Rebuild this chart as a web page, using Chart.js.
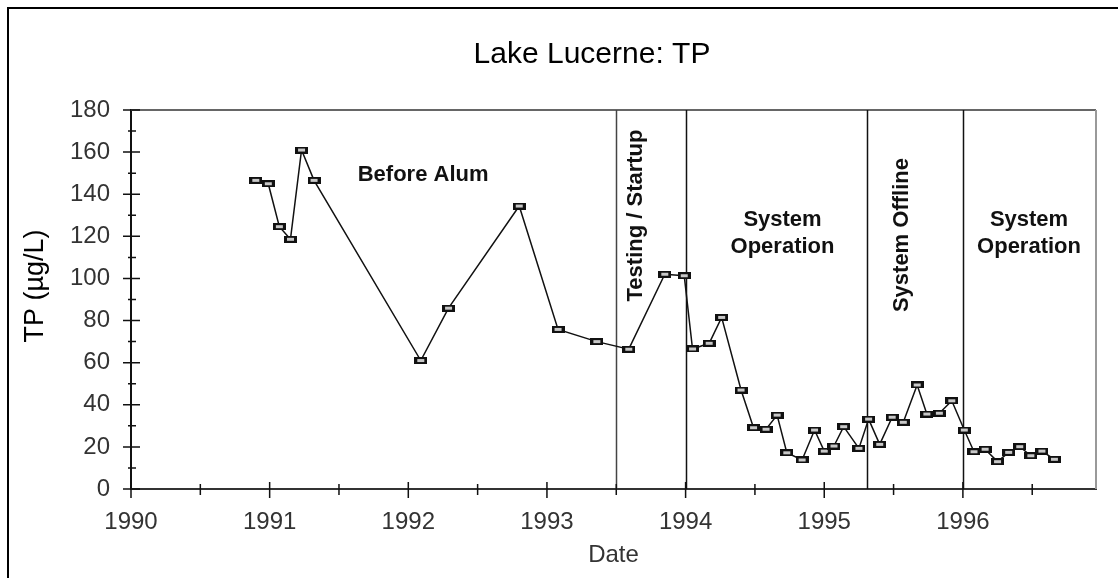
<!DOCTYPE html>
<html>
<head>
<meta charset="utf-8">
<title>Lake Lucerne: TP</title>
<script src="https://cdn.jsdelivr.net/npm/chart.js@4/dist/chart.umd.min.js"></script>
<style>
  html, body { margin: 0; padding: 0; background: #fff; }
  #wrap { width: 1118px; height: 578px; }
</style>
</head>
<body>
<div id="wrap"><canvas id="c" width="1118" height="578"></canvas></div>
<script>
// Sampling dates (decimal years) and total phosphorus (µg/L)
const sampleDates = [
  1990.90, 1990.99, 1991.07, 1991.15, 1991.23, 1991.32,
  1992.09, 1992.29, 1992.80, 1993.08, 1993.36,
  1993.59, 1993.85, 1993.99,
  1994.05, 1994.17, 1994.26, 1994.40, 1994.49, 1994.58, 1994.66, 1994.73,
  1994.84, 1994.93, 1995.00, 1995.07, 1995.14, 1995.25,
  1995.32, 1995.40, 1995.49, 1995.57, 1995.67, 1995.74, 1995.83, 1995.92,
  1996.01, 1996.08, 1996.16, 1996.25, 1996.33, 1996.41, 1996.49, 1996.57, 1996.66
];
const tpValues = [
  146.6, 145.0, 124.6, 118.6, 161.0, 146.6,
  61.0, 85.9, 134.4, 75.8, 70.0,
  66.4, 102.0, 101.3,
  66.5, 69.2, 81.5, 47.0, 29.1, 28.4, 35.1, 17.2,
  13.8, 28.0, 18.0, 20.4, 29.6, 19.3,
  33.2, 21.2, 34.1, 31.7, 49.4, 35.6, 36.0, 41.9,
  28.0, 17.7, 18.9, 13.0, 17.4, 20.1, 15.8, 18.0, 14.1
];
const yearTicks = [1990, 1991, 1992, 1993, 1994, 1995, 1996];
const halfYearTicks = [1990.5, 1991.5, 1992.5, 1993.5, 1994.5, 1995.5, 1996.5];
const tpTicks = [0, 20, 40, 60, 80, 100, 120, 140, 160, 180];
const tpMinorTicks = [10, 30, 50, 70, 90, 110, 130, 150, 170];
// Boundaries between treatment phases
const phaseBounds = [1993.5, 1994.0, 1995.31, 1996.0];

const SANS = '"Liberation Sans", Arial, Helvetica, sans-serif';

// Small hollow rectangular marker
function makeMarker() {
  const m = document.createElement('canvas');
  m.width = 13; m.height = 7;
  const g = m.getContext('2d');
  g.fillStyle = '#111';
  g.fillRect(0, 0, 13, 7);
  g.fillStyle = '#c8c8c8';
  g.fillRect(3, 2, 7, 3);
  return m;
}

const decorPlugin = {
  id: 'decor',
  beforeDraw(chart) {
    const ctx = chart.ctx;
    ctx.save();
    ctx.fillStyle = '#fff';
    ctx.fillRect(0, 0, chart.width, chart.height);
    // outer frame (left and top edges)
    ctx.strokeStyle = '#000';
    ctx.lineWidth = 2;
    ctx.beginPath();
    ctx.moveTo(8, chart.height);
    ctx.lineTo(8, 8);
    ctx.lineTo(chart.width, 8);
    ctx.stroke();
    ctx.restore();
  },
  beforeDatasetsDraw(chart) {
    const { ctx, chartArea: a, scales: { x, y } } = chart;
    ctx.save();
    // plot box top and right
    ctx.lineWidth = 2;
    ctx.strokeStyle = '#666';
    ctx.beginPath();
    ctx.moveTo(a.left, a.top);
    ctx.lineTo(a.right, a.top);
    ctx.stroke();
    ctx.strokeStyle = '#999';
    ctx.beginPath();
    ctx.moveTo(a.right, a.top);
    ctx.lineTo(a.right, a.bottom);
    ctx.stroke();
    // phase boundaries
    ctx.lineWidth = 1.5;
    phaseBounds.forEach((d, i) => {
      const px = Math.round(x.getPixelForValue(d)) + 0.5;
      ctx.strokeStyle = i === 0 ? '#444' : '#111';
      ctx.beginPath();
      ctx.moveTo(px, y.getPixelForValue(180));
      ctx.lineTo(px, y.getPixelForValue(0));
      ctx.stroke();
    });
    ctx.restore();
  },
  afterDraw(chart) {
    const { ctx, scales: { x, y } } = chart;
    ctx.save();
    // tick marks crossing the axes
    ctx.strokeStyle = '#111';
    ctx.lineWidth = 1.5;
    const y0 = y.getPixelForValue(0);
    const x0 = x.getPixelForValue(1990);
    ctx.beginPath();
    tpTicks.forEach(v => { const p = y.getPixelForValue(v); ctx.moveTo(x0 - 8, p); ctx.lineTo(x0 + 9, p); });
    tpMinorTicks.forEach(v => { const p = y.getPixelForValue(v); ctx.moveTo(x0 - 3, p); ctx.lineTo(x0 + 5, p); });
    yearTicks.forEach(v => { const p = x.getPixelForValue(v); ctx.moveTo(p, y0 - 7); ctx.lineTo(p, y0 + 9); });
    halfYearTicks.forEach(v => { const p = x.getPixelForValue(v); ctx.moveTo(p, y0 - 5); ctx.lineTo(p, y0 + 6); });
    ctx.stroke();

    // chart title
    ctx.fillStyle = '#000';
    ctx.textAlign = 'center';
    ctx.textBaseline = 'alphabetic';
    ctx.font = '30px ' + SANS;
    ctx.fillText('Lake Lucerne: TP', 592, 63);

    // y axis title
    ctx.save();
    ctx.translate(43, 286);
    ctx.rotate(-Math.PI / 2);
    ctx.font = '27px ' + SANS;
    ctx.fillText('TP (\u00b5g/L)', 0, 0);
    ctx.restore();

    // phase labels
    ctx.fillStyle = '#111';
    ctx.font = 'bold 22px ' + SANS;
    ctx.textBaseline = 'middle';
    const put = (t, dx, vy, rot) => {
      const px = x.getPixelForValue(dx), py = y.getPixelForValue(vy);
      ctx.save();
      ctx.translate(px, py);
      if (rot) ctx.rotate(-Math.PI / 2);
      ctx.fillText(t, 0, 0);
      ctx.restore();
    };
    put('Before Alum', 1992.107, 149.1, false);
    put('Testing / Startup', 1993.643, 129.9, true);
    put('System', 1994.699, 127.7, false);
    put('Operation', 1994.699, 114.9, false);
    put('System Offline', 1995.559, 120.6, true);
    put('System', 1996.477, 127.7, false);
    put('Operation', 1996.477, 114.9, false);
    ctx.restore();
  }
};

new Chart(document.getElementById('c'), {
  type: 'scatter',
  data: {
    datasets: [{
      label: 'TP',
      data: sampleDates.map((d, i) => ({ x: d, y: tpValues[i] })),
      showLine: true,
      borderColor: '#111',
      borderWidth: 1.5,
      pointStyle: makeMarker(),
      pointRadius: 5,
      tension: 0
    }]
  },
  options: {
    responsive: false,
    animation: false,
    devicePixelRatio: 1,
    layout: { padding: { top: 110, right: 22, left: 0, bottom: 0 } },
    plugins: { legend: { display: false }, tooltip: { enabled: false } },
    scales: {
      x: {
        type: 'linear',
        min: 1990,
        max: 1996.96,
        afterBuildTicks: s => { s.ticks = yearTicks.map(v => ({ value: v })); },
        afterFit: s => { s.height = 89; },
        grid: { display: false, drawTicks: false },
        border: { display: true, color: '#333', width: 2 },
        ticks: {
          font: { family: SANS, size: 24 },
          color: '#333',
          padding: 19,
          maxRotation: 0,
          autoSkip: false,
          callback: v => String(v)
        },
        title: {
          display: true,
          text: 'Date',
          font: { family: SANS, size: 24 },
          color: '#333',
          padding: { top: 0, bottom: 8 }
        }
      },
      y: {
        min: 0,
        max: 180,
        afterBuildTicks: s => { s.ticks = tpTicks.map(v => ({ value: v })); },
        afterFit: s => { s.width = 131; },
        grid: { display: false, drawTicks: false },
        border: { display: true, color: '#111', width: 2 },
        ticks: {
          font: { family: SANS, size: 24 },
          color: '#333',
          padding: 21
        }
      }
    }
  },
  plugins: [decorPlugin]
});
</script>
</body>
</html>
